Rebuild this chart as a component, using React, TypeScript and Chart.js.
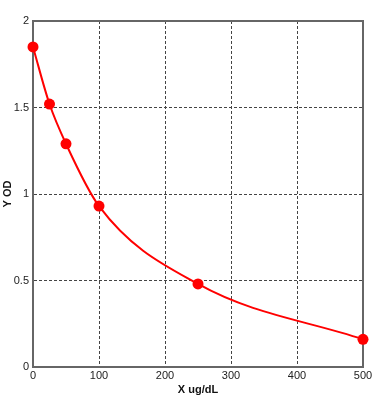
import React, { useEffect, useRef } from "react";
import { Chart, registerables } from "chart.js";

Chart.register(...registerables);

const xValues = [0, 25, 50, 100, 250, 500];
const yValues = [1.85, 1.52, 1.29, 0.93, 0.48, 0.16];
const xTicks = ["0", "100", "200", "300", "400", "500"];
const yTicks = ["0", "0.5", "1", "1.5", "2"];
const xTitle = "X ug/dL";
const yTitle = "Y OD";

const tickFont = { family: "'Liberation Sans', Arial, sans-serif", size: 11 };
const titleFont = { family: "'Liberation Sans', Arial, sans-serif", size: 11, weight: "bold" as const };

const frame = {
  id: "frame",
  beforeDatasetsDraw(chart: any) {
    const { ctx, chartArea } = chart;
    ctx.save();
    ctx.strokeStyle = "#666";
    ctx.lineWidth = 2;
    ctx.strokeRect(chartArea.left, chartArea.top, chartArea.right - chartArea.left, chartArea.bottom - chartArea.top);
    ctx.restore();
  },
};

export default function App() {
  const ref = useRef<HTMLCanvasElement>(null);
  useEffect(() => {
    if (!ref.current) return;
    const chart = new Chart(ref.current, {
      type: "line",
      data: {
        datasets: [
          {
            data: xValues.map((x, i) => ({ x, y: yValues[i] })),
            borderColor: "#ff0000",
            backgroundColor: "#ff0000",
            borderWidth: 2,
            pointRadius: 5.5,
            pointBackgroundColor: "#ff0000",
            pointBorderColor: "#ff0000",
            pointBorderWidth: 0,
            cubicInterpolationMode: "monotone",
            clip: false as any,
          },
        ],
      },
      options: {
        responsive: false,
        animation: false,
        layout: { padding: { top: 21, right: 27, left: 0, bottom: 0 } },
        plugins: { legend: { display: false }, tooltip: { enabled: false } },
        scales: {
          x: {
            type: "linear",
            min: 0,
            max: 500,
            afterFit: (s: any) => { s.height = 35; },
            ticks: { stepSize: 100, color: "#222", font: tickFont, padding: 2, maxRotation: 0, callback: (_v: any, i: number) => xTicks[i] },
            grid: { color: "#444", lineWidth: 1, drawTicks: false },
            border: { display: true, color: "#666", width: 2, dash: [3, 2] },
            title: { display: true, text: xTitle, color: "#111", font: titleFont, padding: { top: 0, bottom: 5 } },
          },
          y: {
            type: "linear",
            min: 0,
            max: 2,
            afterFit: (s: any) => { s.width = 33; },
            ticks: { stepSize: 0.5, color: "#222", font: tickFont, padding: 4, callback: (_v: any, i: number) => yTicks[i] },
            grid: { color: "#444", lineWidth: 1, drawTicks: false },
            border: { display: true, color: "#666", width: 2, dash: [3, 2] },
            title: { display: true, text: yTitle, color: "#111", font: titleFont, padding: { top: 1, bottom: 0 } },
          },
        },
      },
      plugins: [frame],
    });
    return () => chart.destroy();
  }, []);
  return (
    <div style={{ position: "absolute", left: 0, top: 0, width: 390, height: 402, background: "#fff" }}>
      <canvas ref={ref} width={390} height={402} />
    </div>
  );
}
